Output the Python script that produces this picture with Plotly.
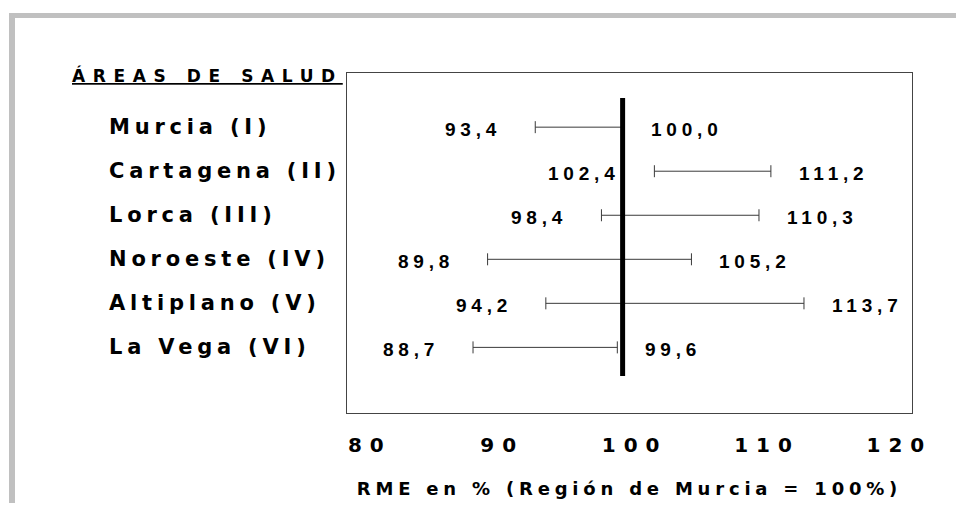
import plotly.graph_objects as go

areas = ["Murcia (I)", "Cartagena (II)", "Lorca (III)", "Noroeste (IV)", "Altiplano (V)", "La Vega (VI)"]
lower = [93.4, 102.4, 98.4, 89.8, 94.2, 88.7]
upper = [100.0, 111.2, 110.3, 105.2, 113.7, 99.6]
ref_value = 100
tick_vals = [80, 90, 100, 110, 120]
tick_text = ["80", "90", "100", "110", "120"]

OFF = 8  # default page margin of the html body
W, H = 964 - 2 * OFF, 511 - 2 * OFF
# plot box in page pixels
PL, PR, PT, PB = 347, 912, 73, 413
L, R, T, B = PL - OFF, PR - OFF, PT - OFF, PB - OFF


def px_x(p):
    return (p - PL) / (PR - PL)


def px_y(p):
    return (PB - p) / (PB - PT)


def spaced(s, sp):
    return f'<span style="letter-spacing:{sp}px">{s}</span>'


def fmt(v):
    return f"{v:.1f}".replace(".", ",")


WIDE = "DejaVu Sans, Verdana, sans-serif"
ARIAL = "Arial, Liberation Sans, sans-serif"

mid = [(a + b) / 2 for a, b in zip(lower, upper)]
half = [(b - a) / 2 for a, b in zip(lower, upper)]

fig = go.Figure()
fig.add_trace(go.Scatter(
    x=mid, y=areas, mode="markers",
    marker=dict(size=1, color="rgba(0,0,0,0)"),
    error_x=dict(type="data", symmetric=True, array=half,
                 color="#3a3a3a", thickness=1, width=6),
    showlegend=False, hoverinfo="skip",
))

val_font = dict(family=ARIAL, size=19, color="black", weight="bold")
annotations = []
for a, lo, hi in zip(areas, lower, upper):
    annotations.append(dict(x=lo, y=a, xref="x", yref="y", text=spaced(fmt(lo), 4.8),
                            showarrow=False, xanchor="right", xshift=-32, yshift=-2,
                            font=val_font))
    annotations.append(dict(x=hi, y=a, xref="x", yref="y", text=spaced(fmt(hi), 4.8),
                            showarrow=False, xanchor="left", xshift=26, yshift=-2,
                            font=val_font))
    annotations.append(dict(x=px_x(107), y=a, xref="paper", yref="y", text=spaced(a, 4.8),
                            showarrow=False, xanchor="left",
                            font=dict(family=WIDE, size=21, color="black", weight="bold")))

annotations.append(dict(x=px_x(70), y=px_y(75), xref="paper", yref="paper",
                        text=spaced("ÁREAS DE SALUD", 7.6), showarrow=False,
                        xanchor="left", yanchor="middle",
                        font=dict(family=WIDE, size=17, color="black", weight="bold",
                                  lineposition="under")))

shapes = [
    # gray frame
    dict(type="rect", xref="paper", yref="paper", x0=px_x(9), x1=px_x(964), y0=px_y(18), y1=px_y(13),
         fillcolor="#c0c0c0", line=dict(width=0), layer="below"),
    dict(type="rect", xref="paper", yref="paper", x0=px_x(9), x1=px_x(15), y0=px_y(520), y1=px_y(13),
         fillcolor="#c0c0c0", line=dict(width=0), layer="below"),
    # reference line at 100
    dict(type="line", xref="x", yref="paper", x0=ref_value, x1=ref_value,
         y0=px_y(376), y1=px_y(98), line=dict(color="black", width=5)),
]

fig.update_layout(
    width=W, height=H,
    margin=dict(l=L, r=W - R, t=T, b=H - B, autoexpand=False),
    paper_bgcolor="white", plot_bgcolor="white",
    annotations=annotations, shapes=shapes,
    xaxis=dict(range=[79.18, 121.86], tickvals=tick_vals,
               ticktext=[spaced(t, 8) for t in tick_text],
               showgrid=False, zeroline=False, showline=True, mirror=True,
               linecolor="#444444", linewidth=1, ticks="",
               ticklabelstandoff=14, ticklabelshift=12,
               tickfont=dict(family=WIDE, size=20, color="black", weight="bold"),
               title=dict(text=spaced("RME en % (Región de Murcia = 100%)", 4.8),
                          font=dict(family=WIDE, size=18, color="black", weight="bold"),
                          standoff=26)),
    yaxis=dict(type="category", categoryorder="array", categoryarray=areas,
               range=[6.49, -1.23], showticklabels=False, showgrid=False,
               zeroline=False, showline=True, mirror=True, linecolor="#444444",
               linewidth=1, ticks=""),
)

fig.write_html("out.html")
